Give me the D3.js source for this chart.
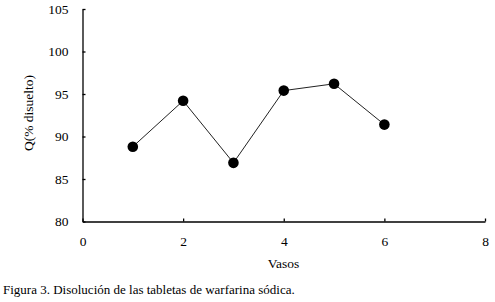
<!DOCTYPE html>
<html>
<head>
<meta charset="utf-8">
<script src="https://cdn.jsdelivr.net/npm/d3@7"></script>
<style>
  body { margin: 0; background: #fff; }
</style>
</head>
<body>
<script>
// vessel number and % dissolved
var vasos = [1, 2, 3, 4, 5, 6];
var disuelto = [88.8, 94.2, 86.9, 95.4, 96.2, 91.4];
var xTicks = [0, 2, 4, 6, 8];
var yTicks = [80, 85, 90, 95, 100, 105];

var serif = '"Liberation Serif", "DejaVu Serif", serif';
var data = vasos.map(function(v, i) { return { x: v, y: disuelto[i] }; });

var svg = d3.select('body').append('svg')
  .attr('width', 495)
  .attr('height', 302);

var xScale = d3.scaleLinear().domain([0, 8]).range([82.5, 485]);
var yScale = d3.scaleLinear().domain([80, 105]).range([221.5, 9]);

// y axis, ticks inside
var yAxis = svg.append('g')
  .attr('transform', 'translate(82.5,0)')
  .call(d3.axisRight(yScale).tickValues(yTicks).tickSize(3).tickSizeOuter(0).tickFormat(d3.format('d')));
yAxis.attr('font-family', null);
yAxis.select('.domain').attr('stroke', '#000').attr('stroke-width', 1.3);
yAxis.selectAll('.tick line').attr('stroke', '#000').attr('stroke-width', 1.3);
yAxis.selectAll('.tick text')
  .attr('x', -14).attr('text-anchor', 'end')
  .style('font-family', serif)
  .style('font-size', '13.5px');

// x axis, ticks inside
var xAxis = svg.append('g')
  .attr('transform', 'translate(0,221.5)')
  .call(d3.axisTop(xScale).tickValues(xTicks).tickSize(3).tickSizeOuter(0));
xAxis.attr('font-family', null);
xAxis.select('.domain').attr('stroke', '#000').attr('stroke-width', 1.3);
xAxis.selectAll('.tick line').attr('stroke', '#000').attr('stroke-width', 1.3);
xAxis.selectAll('.tick text')
  .attr('y', 24).attr('dy', 0)
  .style('font-family', serif)
  .style('font-size', '13.5px');

// line + markers
var line = d3.line()
  .x(function(d) { return xScale(d.x); })
  .y(function(d) { return yScale(d.y); });

svg.append('path')
  .datum(data)
  .attr('fill', 'none')
  .attr('stroke', '#222')
  .attr('stroke-width', 1)
  .attr('d', line);

svg.selectAll('circle')
  .data(data)
  .enter().append('circle')
  .attr('cx', function(d) { return xScale(d.x); })
  .attr('cy', function(d) { return yScale(d.y); })
  .attr('r', 5.3)
  .attr('fill', '#000');

// axis titles
svg.append('text')
  .attr('transform', 'translate(33,113) rotate(-90)')
  .attr('text-anchor', 'middle')
  .style('font-family', serif)
  .style('font-size', '13.5px')
  .text('Q(% disuelto)');

svg.append('text')
  .attr('x', 283.5)
  .attr('y', 268)
  .attr('text-anchor', 'middle')
  .style('font-family', serif)
  .style('font-size', '13.5px')
  .text('Vasos');

// caption
svg.append('text')
  .attr('x', 3)
  .attr('y', 294)
  .style('font-family', serif)
  .style('font-size', '13px')
  .text('Figura 3. Disolución de las tabletas de warfarina sódica.');
</script>
</body>
</html>
